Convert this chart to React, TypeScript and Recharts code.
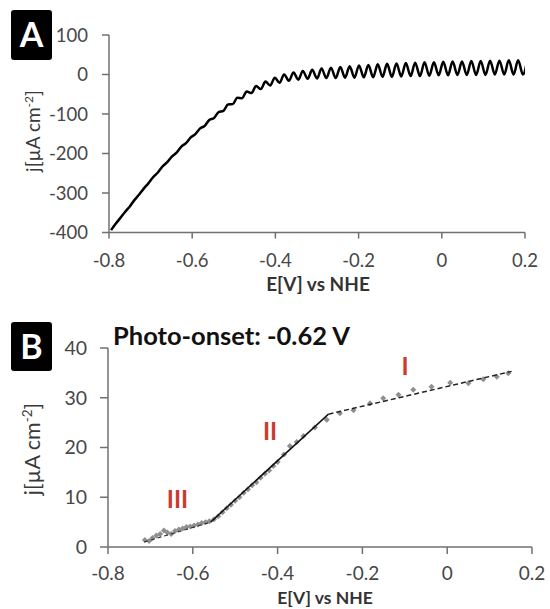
import React from "react";
import { LineChart, Line, XAxis, YAxis, ScatterChart, Scatter } from "recharts";

// ---------- Panel A: chopped-light LSV (one dark and one light reading per chopping cycle) ----------
const cycleE = [
  -0.8, -0.7775, -0.755, -0.7325, -0.71, -0.6875, -0.665, -0.6425, -0.62, -0.5975,
  -0.575, -0.5525, -0.53, -0.5075, -0.485, -0.4625, -0.44, -0.4175, -0.395, -0.3725,
  -0.35, -0.3275, -0.305, -0.2825, -0.26, -0.2375, -0.215, -0.1925, -0.17, -0.1475,
  -0.125, -0.1025, -0.08, -0.0575, -0.035, -0.0125, 0.01, 0.0325, 0.055, 0.0775,
  0.1, 0.1225, 0.145, 0.1675, 0.19,
];
const darkJ = [
  -394, -363, -334, -304, -275, -248, -222, -198, -174, -151,
  -130, -110, -92, -75, -60, -47, -37, -28, -21, -16,
  -13, -11, -10, -9, -9, -8, -8, -7, -7, -6,
  -6, -5, -4, -4, -3, -2, -2, -1, -1, -1,
  -1, 0, 0, 0, 0,
];
const lightJ = [
  -378, -348, -318, -289, -260, -233, -208, -183, -160, -137,
  -115, -95, -76, -59, -43, -29, -18, -8, 0, 5,
  9, 12, 15, 17, 19, 21, 23, 24, 26, 27,
  28, 29, 30, 31, 31, 32, 33, 33, 34, 34,
  35, 35, 36, 36, 39,
];
const xTicks = [-0.8, -0.6, -0.4, -0.2, 0, 0.2];
const yTicksA = [-400, -300, -200, -100, 0, 100];

// ---------- Panel B: photocurrent points and linear fits ----------
const bE = [
  -0.713, -0.703, -0.695, -0.686, -0.677, -0.668, -0.66, -0.651, -0.642, -0.633,
  -0.624, -0.615, -0.606, -0.597, -0.588, -0.579, -0.57, -0.561,
  -0.55, -0.54, -0.53, -0.52, -0.51, -0.5, -0.49, -0.48, -0.47, -0.46,
  -0.45, -0.44, -0.43, -0.42, -0.41, -0.4, -0.385, -0.371, -0.355, -0.339,
  -0.312, -0.284,
  -0.253, -0.221, -0.182, -0.151, -0.115, -0.08, -0.037, 0.007, 0.05, 0.085,
  0.117, 0.144,
];
const bJ = [
  1.4, 1.2, 1.8, 2.3, 2.6, 3.3, 2.9, 2.6, 3.2, 3.5,
  3.7, 4.0, 4.1, 4.3, 4.5, 4.8, 5.0, 5.2,
  5.6, 6.2, 7.0, 7.8, 8.5, 9.3, 10.0, 10.9, 11.6, 12.4,
  13.0, 13.9, 14.7, 15.4, 16.3, 17.1, 18.6, 20.3, 21.1, 22.3,
  24.0, 25.6,
  26.9, 27.5, 28.9, 29.9, 30.6, 31.6, 32.2, 33.0, 32.9, 33.7,
  34.2, 34.9,
];
const fitIIIE = [-0.715, -0.558];
const fitIIIJ = [1.0, 5.0];
const fitIIE = [-0.558, -0.28];
const fitIIJ = [5.0, 26.7];
const fitIE = [-0.28, 0.152];
const fitIJ = [26.7, 35.3];
const yTicksB = [0, 10, 20, 30, 40];

// build tables
const tableA: { E: number; j: number }[] = [];
cycleE.forEach((e, i) => {
  tableA.push({ E: e + 0.005, j: darkJ[i] });
  tableA.push({ E: e + 0.016, j: lightJ[i] });
});
const pointsB = bE.map((e, i) => ({ E: e, j: bJ[i] }));
const mk = (es: number[], js: number[]) => es.map((e, i) => ({ E: e, j: js[i] }));

const FONT = "Lato, 'Open Sans', sans-serif";
const AXIS = "#707070";
const TICK = "#474747";
const fmt = (v: number) => (Math.abs(v) < 1e-9 ? "0" : v.toFixed(1));

const Diamond = (p: any) => {
  const { cx, cy } = p;
  if (cx == null || cy == null) return <g />;
  return (
    <polygon
      points={`${cx},${cy - 3} ${cx + 3},${cy} ${cx},${cy + 3} ${cx - 3},${cy}`}
      fill="#8f8f8f"
    />
  );
};
const NoShape = () => <g />;

export default function App() {
  return (
    <div style={{ position: "absolute", left: 0, top: 0, width: 550, height: 609, background: "#fff" }}>
      <div style={{ position: "absolute", left: 0, top: 0 }}>
        <LineChart width={550} height={300} data={tableA} margin={{ top: 35, right: 25, left: 49, bottom: 37.5 }}>
          <XAxis
            dataKey="E"
            type="number"
            domain={[-0.8, 0.2]}
            ticks={xTicks}
            tickFormatter={fmt}
            allowDataOverflow
            height={30}
            stroke={AXIS}
            strokeWidth={1.5}
            tickSize={6}
            tickMargin={15}
            tick={{ fill: TICK, fontSize: 18.5, fontFamily: FONT }}
          />
          <YAxis
            type="number"
            domain={[-400, 100]}
            ticks={yTicksA}
            allowDataOverflow
            width={60}
            stroke={AXIS}
            strokeWidth={1.5}
            tickSize={7}
            tickMargin={14}
            tick={{ fill: TICK, fontSize: 18.5, fontFamily: FONT }}
          />
          <Line
            dataKey="j"
            type="monotone"
            stroke="#000"
            strokeWidth={2.5}
            dot={false}
            isAnimationActive={false}
          />
        </LineChart>
      </div>
      <div style={{ position: "absolute", left: 0, top: 300 }}>
        <ScatterChart width={550} height={309} margin={{ top: 48, right: 18, left: 48, bottom: 32 }}>
          <XAxis
            dataKey="E"
            type="number"
            domain={[-0.8, 0.2]}
            ticks={xTicks}
            tickFormatter={fmt}
            allowDataOverflow
            height={30}
            stroke={AXIS}
            strokeWidth={1.5}
            tickSize={7}
            tickMargin={13}
            tick={{ fill: TICK, fontSize: 19, fontFamily: FONT }}
          />
          <YAxis
            dataKey="j"
            type="number"
            domain={[0, 40]}
            ticks={yTicksB}
            allowDataOverflow
            width={60}
            stroke={AXIS}
            strokeWidth={1.5}
            tickSize={8}
            tickMargin={13}
            tick={{ fill: TICK, fontSize: 19.5, fontFamily: FONT }}
          />
          <Scatter data={pointsB} shape={Diamond} isAnimationActive={false} />
          <Scatter
            data={mk(fitIIIE, fitIIIJ)}
            shape={NoShape}
            line={{ stroke: "#333", strokeWidth: 1.2, strokeDasharray: "4 3" }}
            isAnimationActive={false}
          />
          <Scatter
            data={mk(fitIIE, fitIIJ)}
            shape={NoShape}
            line={{ stroke: "#111", strokeWidth: 1.5 }}
            isAnimationActive={false}
          />
          <Scatter
            data={mk(fitIE, fitIJ)}
            shape={NoShape}
            line={{ stroke: "#222", strokeWidth: 1.5, strokeDasharray: "5 3" }}
            isAnimationActive={false}
          />
        </ScatterChart>
      </div>
      <svg
        width={550}
        height={609}
        style={{ position: "absolute", left: 0, top: 0, pointerEvents: "none" }}
        fontFamily={FONT}
      >
        <rect x={11} y={10} width={41} height={50} rx={3} fill="#000" />
        <text x={31.5} y={47} textAnchor="middle" fill="#fff" fontSize={34} fontWeight="bold">A</text>
        <rect x={11} y={322} width={41} height={49} rx={3} fill="#000" />
        <text x={31.5} y={359} textAnchor="middle" fill="#fff" fontSize={34} fontWeight="bold">B</text>

        <text transform="translate(40,131) rotate(-90)" textAnchor="middle" fill="#3a3a3a" fontSize={19}>
          j[µA cm<tspan dy={-7} fontSize={12}>-2</tspan><tspan dy={7}>]</tspan>
        </text>
        <text transform="translate(40,449) rotate(-90)" textAnchor="middle" fill="#3a3a3a" fontSize={21.5}>
          j[µA cm<tspan dy={-8} fontSize={13.5}>-2</tspan><tspan dy={8}>]</tspan>
        </text>

        <text x={318} y={291} textAnchor="middle" fill="#333" fontSize={19} fontWeight="bold">E[V] vs NHE</text>
        <text x={325} y={604} textAnchor="middle" fill="#333" fontSize={17.5} fontWeight="bold">E[V] vs NHE</text>

        <text x={113} y={345} fill="#111" fontSize={25.5} fontWeight="bold">Photo-onset: -0.62 V</text>

        <text x={405} y={375} textAnchor="middle" fill="#cc3a2e" fontSize={24} fontWeight="bold">I</text>
        <text x={270} y={440} textAnchor="middle" fill="#cc3a2e" fontSize={24} fontWeight="bold">II</text>
        <text x={177.5} y={508} textAnchor="middle" fill="#cc3a2e" fontSize={24} fontWeight="bold">III</text>
      </svg>
    </div>
  );
}
